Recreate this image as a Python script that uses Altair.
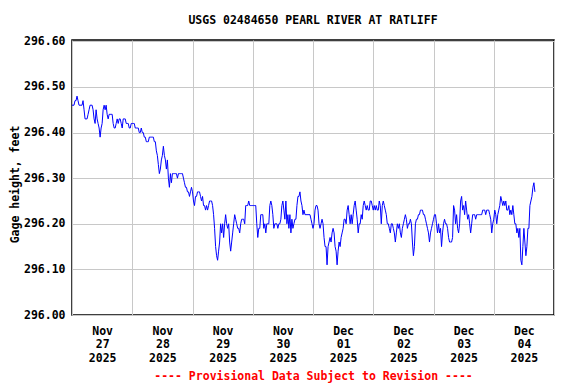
import altair as alt
import pandas as pd

TITLE = "USGS 02484650 PEARL RIVER AT RATLIFF"
Y_TITLE = "Gage height, feet"
NOTE = "---- Provisional Data Subject to Revision ----"
Y_TICKS = [296.0, 296.1, 296.2, 296.3, 296.4, 296.5, 296.6]
FIRST_DAY = "2025-11-27"
N_DAYS = 8
STEP_MIN = 24  # one reading every 24 minutes, starting at midnight of each day

# Gage height, feet
nov27 = [296.46, 296.46, 296.46, 296.47, 296.47, 296.48, 296.47, 296.46, 296.46, 296.46,
         296.46, 296.47, 296.45, 296.43, 296.43, 296.43, 296.44, 296.45, 296.46, 296.46,
         296.46, 296.45, 296.43, 296.42, 296.45, 296.43, 296.42, 296.41, 296.39, 296.41,
         296.42, 296.45, 296.46, 296.45, 296.46, 296.44, 296.43, 296.44, 296.44, 296.44,
         296.44, 296.42, 296.41, 296.41, 296.42, 296.43, 296.42, 296.43, 296.43, 296.42,
         296.41, 296.43, 296.43, 296.43, 296.42, 296.42, 296.42, 296.41, 296.41, 296.42]
nov28 = [296.42, 296.42, 296.42, 296.41, 296.41, 296.41, 296.41, 296.40, 296.40, 296.41,
         296.40, 296.40, 296.39, 296.39, 296.38, 296.38, 296.38, 296.39, 296.39, 296.39,
         296.39, 296.39, 296.38, 296.38, 296.36, 296.35, 296.33, 296.31, 296.32, 296.34,
         296.35, 296.37, 296.35, 296.34, 296.32, 296.34, 296.30, 296.28, 296.31, 296.29,
         296.31, 296.31, 296.31, 296.31, 296.31, 296.30, 296.31, 296.31, 296.31, 296.31,
         296.31, 296.30, 296.29, 296.28, 296.28, 296.27, 296.27, 296.26, 296.27, 296.28]
nov29 = [296.27, 296.25, 296.24, 296.26, 296.26, 296.27, 296.27, 296.27, 296.26, 296.25,
         296.26, 296.24, 296.24, 296.23, 296.24, 296.23, 296.24, 296.25, 296.25, 296.25,
         296.24, 296.22, 296.19, 296.15, 296.13, 296.12, 296.14, 296.16, 296.20, 296.18,
         296.20, 296.17, 296.20, 296.22, 296.20, 296.19, 296.20, 296.16, 296.14, 296.16,
         296.18, 296.20, 296.22, 296.21, 296.20, 296.19, 296.19, 296.18, 296.20, 296.21,
         296.21, 296.21, 296.20, 296.24, 296.24, 296.24, 296.25, 296.24, 296.24, 296.24]
nov30 = [296.24, 296.24, 296.24, 296.24, 296.20, 296.17, 296.19, 296.19, 296.22, 296.22,
         296.22, 296.19, 296.20, 296.18, 296.20, 296.20, 296.20, 296.24, 296.25, 296.24,
         296.22, 296.19, 296.20, 296.20, 296.20, 296.19, 296.20, 296.20, 296.21, 296.24,
         296.25, 296.23, 296.21, 296.25, 296.20, 296.22, 296.19, 296.22, 296.18, 296.21,
         296.19, 296.20, 296.21, 296.21, 296.24, 296.26, 296.26, 296.27, 296.25, 296.24,
         296.22, 296.23, 296.22, 296.22, 296.22, 296.22, 296.22, 296.22, 296.21, 296.20]
dec01 = [296.19, 296.20, 296.23, 296.24, 296.24, 296.23, 296.20, 296.19, 296.20, 296.21,
         296.20, 296.17, 296.15, 296.15, 296.11, 296.15, 296.16, 296.17, 296.16, 296.18,
         296.19, 296.18, 296.15, 296.14, 296.11, 296.14, 296.16, 296.15, 296.17, 296.18,
         296.19, 296.21, 296.21, 296.20, 296.23, 296.24, 296.22, 296.20, 296.22, 296.20,
         296.22, 296.24, 296.25, 296.23, 296.21, 296.18, 296.20, 296.20, 296.22, 296.21,
         296.24, 296.25, 296.24, 296.23, 296.24, 296.23, 296.23, 296.25, 296.25, 296.24]
dec02 = [296.23, 296.24, 296.23, 296.24, 296.23, 296.23, 296.25, 296.24, 296.20, 296.24,
         296.25, 296.24, 296.23, 296.22, 296.20, 296.20, 296.19, 296.18, 296.20, 296.20,
         296.19, 296.18, 296.16, 296.18, 296.20, 296.19, 296.20, 296.18, 296.17, 296.19,
         296.20, 296.21, 296.22, 296.21, 296.19, 296.20, 296.20, 296.21, 296.20, 296.16,
         296.13, 296.15, 296.20, 296.21, 296.21, 296.22, 296.22, 296.23, 296.23, 296.23,
         296.22, 296.22, 296.21, 296.20, 296.19, 296.18, 296.16, 296.18, 296.19, 296.20]
dec03 = [296.21, 296.22, 296.22, 296.20, 296.18, 296.20, 296.18, 296.19, 296.15, 296.18,
         296.20, 296.21, 296.20, 296.20, 296.19, 296.17, 296.16, 296.16, 296.16, 296.17,
         296.24, 296.23, 296.20, 296.22, 296.19, 296.18, 296.20, 296.25, 296.26, 296.23,
         296.24, 296.22, 296.25, 296.23, 296.21, 296.22, 296.20, 296.18, 296.20, 296.22,
         296.22, 296.22, 296.21, 296.22, 296.22, 296.22, 296.22, 296.22, 296.22, 296.23,
         296.23, 296.23, 296.22, 296.23, 296.23, 296.23, 296.22, 296.21, 296.18, 296.20]
dec04 = [296.21, 296.23, 296.22, 296.20, 296.22, 296.23, 296.24, 296.26, 296.25, 296.24,
         296.25, 296.24, 296.25, 296.23, 296.23, 296.24, 296.22, 296.23, 296.22, 296.24,
         296.22, 296.20, 296.20, 296.18, 296.19, 296.17, 296.19, 296.12, 296.11, 296.15,
         296.19, 296.16, 296.13, 296.15, 296.19, 296.19, 296.24, 296.25, 296.26, 296.28,
         296.29, 296.27]

days = [nov27, nov28, nov29, nov30, dec01, dec02, dec03, dec04]
start = pd.Timestamp(FIRST_DAY)
rows = []
for d, vals in enumerate(days):
    for i, v in enumerate(vals):
        rows.append({"time": start + pd.Timedelta(days=d, minutes=STEP_MIN * i), "height": v})
df = pd.DataFrame(rows)

midnights = pd.date_range(FIRST_DAY, periods=N_DAYS + 1, freq="D")
noons = midnights[:-1] + pd.Timedelta(hours=12)
lab_df = pd.DataFrame({"time": noons})


def dt(ts):
    return alt.DateTime(year=ts.year, month=ts.month, date=ts.day, hours=ts.hour)


x_scale = alt.Scale(domain=[dt(midnights[0]), dt(midnights[-1])])
y_scale = alt.Scale(domain=[296.0, 296.603], zero=False, nice=False)

FONT = "DejaVu Sans Mono"
GRID = "#c8c8c8"

line = alt.Chart(df).mark_line(color="#0000ff", strokeWidth=1).encode(
    x=alt.X("time:T", scale=x_scale,
            axis=alt.Axis(values=[dt(t) for t in midnights], grid=True, labels=False,
                          ticks=False, domain=False, title=None, orient="bottom",
                          gridColor=GRID, gridOpacity=1)),
    y=alt.Y("height:Q", scale=y_scale,
            axis=alt.Axis(values=Y_TICKS, format=".2f", grid=True, ticks=False,
                          domain=False, title=Y_TITLE, labelPadding=7, titlePadding=3,
                          titleY=144, gridColor=GRID, gridOpacity=1, titleColor="black")),
)

labels = alt.Chart(lab_df).mark_point(opacity=0).encode(
    x=alt.X("time:T", scale=x_scale,
            axis=alt.Axis(values=[dt(t) for t in noons], format="%b %d %Y",
                          labelExpr="split(datum.label, ' ')", grid=False, ticks=False,
                          domain=False, title=NOTE, titleColor="#ff0000", orient="bottom",
                          labelPadding=10, labelLineHeight=13.5, titlePadding=7)),
    y=alt.value(0),
)

chart = alt.layer(line, labels).resolve_axis(x="independent").properties(
    width=482,
    height=275,
    background="white",
    title=alt.TitleParams(TITLE, font=FONT, fontSize=11.5, fontWeight="bold",
                          color="black", anchor="middle", offset=9),
    padding={"left": 64, "top": 32, "right": 14, "bottom": 69},
    autosize=alt.AutoSizeParams(type="none"),
).configure_axis(
    labelFont=FONT, labelFontSize=11.5, labelFontWeight="bold", labelColor="black",
    titleFont=FONT, titleFontSize=11.5, titleFontWeight="bold",
).configure_view(
    stroke="black", strokeWidth=1.5
)

chart.save("out.html", embed_options={"renderer": "svg", "actions": False})
